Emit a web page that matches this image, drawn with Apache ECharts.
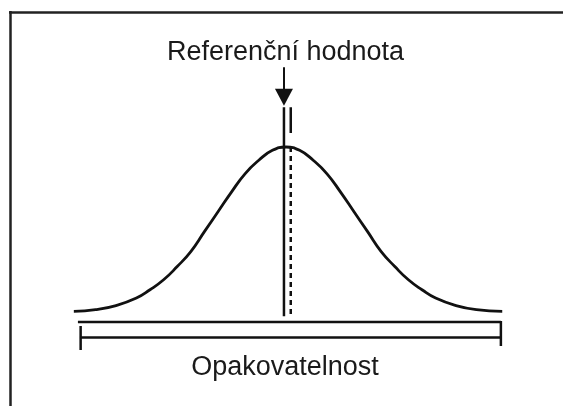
<!DOCTYPE html>
<html lang="cs">
<head>
    <meta charset="UTF-8">
    <script src="https://cdn.jsdelivr.net/npm/echarts@6/dist/echarts.min.js"></script>
    <title>Referenční hodnota</title>
</head>
<body style="margin:0;background:#fff;">
    <div id="main" style="width:563px;height:406px;"></div>
    <script type="text/javascript">
      // bell curve (x in sigma units, y relative to peak)
      var curveX = [-3.12, -2.8, -2.5, -2.2, -2.0, -1.8, -1.6, -1.4, -1.2, -1.0, -0.8, -0.6, -0.4, -0.2, 0,
                    0.2, 0.4, 0.6, 0.8, 1.0, 1.2, 1.4, 1.6, 1.8, 2.0, 2.2, 2.5, 2.8, 3.18];
      var curveY = [0.01, 0.02, 0.045, 0.09, 0.14, 0.2, 0.28, 0.37, 0.49, 0.61, 0.73, 0.84, 0.92, 0.98, 1,
                    0.98, 0.92, 0.84, 0.73, 0.61, 0.49, 0.37, 0.28, 0.2, 0.14, 0.09, 0.045, 0.02, 0.01];

      // reference lines
      var refSolid = [[-0.03, 1.24], [-0.03, -0.02]];
      var refDashTop = [[0.07, 1.24], [0.07, 1.084]];
      var refDashed = [[0.07, 1.0], [0.07, -0.02]];
      var arrow = [[-0.03, 1.48], [-0.03, 1.30]];

      // repeatability bracket
      var bracketTop = [[-3.06, -0.054], [3.16, -0.054]];
      var bracketBottom = [[-3.03, -0.148], [3.16, -0.148]];
      var tickLeft = [[-3.02, -0.078], [-3.02, -0.223]];
      var tickRight = [[3.16, -0.048], [3.16, -0.199]];

      var topLabel = 'Referenční hodnota';
      var bottomLabel = 'Opakovatelnost';

      var ink = '#111';

      function seg(data, width, type) {
        return {
          type: 'line', data: data, symbol: 'none', silent: true, animation: false,
          lineStyle: { color: ink, width: width, type: type || 'solid', cap: 'butt' }
        };
      }

      var myChart = echarts.init(document.getElementById('main'));

      var curve = seg(curveX.map(function (x, i) { return [x, curveY[i]]; }), 2.8);
      curve.smooth = true;

      var dashed = seg(refDashed, 2.5, [5, 4]);
      var arrowSeries = {
        type: 'line', data: [], silent: true, animation: false,
        markLine: {
          silent: true, animation: false,
          symbol: ['none', 'triangle'], symbolSize: [18, 17],
          label: { show: false },
          lineStyle: { color: ink, width: 2, type: 'solid' },
          data: [[{ coord: arrow[0] }, { coord: arrow[1] }]]
        }
      };

      var option = {
        backgroundColor: '#fff',
        animation: false,
        grid: { left: 14, right: 5, top: 64, bottom: 10 },
        xAxis: { type: 'value', min: -4, max: 4, show: false },
        yAxis: { type: 'value', min: -0.5, max: 1.5, show: false },
        graphic: [
          { type: 'line', shape: { x1: 9, y1: 12.5, x2: 563, y2: 12.5 }, style: { stroke: '#222', lineWidth: 2.5 } },
          { type: 'line', shape: { x1: 10.5, y1: 11, x2: 10.5, y2: 406 }, style: { stroke: '#222', lineWidth: 2.5 } },
          { type: 'text', x: 285.5, y: 52.5,
            style: { text: topLabel, font: '27px "Liberation Sans", Arial, sans-serif', fill: '#1a1a1a',
                     textAlign: 'center', textVerticalAlign: 'middle' } },
          { type: 'text', x: 285, y: 368,
            style: { text: bottomLabel, font: '27px "Liberation Sans", Arial, sans-serif', fill: '#1a1a1a',
                     textAlign: 'center', textVerticalAlign: 'middle' } }
        ],
        series: [
          curve,
          seg(refSolid, 2.5),
          seg(refDashTop, 2.5),
          dashed,
          arrowSeries,
          seg(bracketTop, 2.5),
          seg(bracketBottom, 2.5),
          seg(tickLeft, 2.5),
          seg(tickRight, 2.5)
        ]
      };

      myChart.setOption(option);
    </script>
</body>
</html>
